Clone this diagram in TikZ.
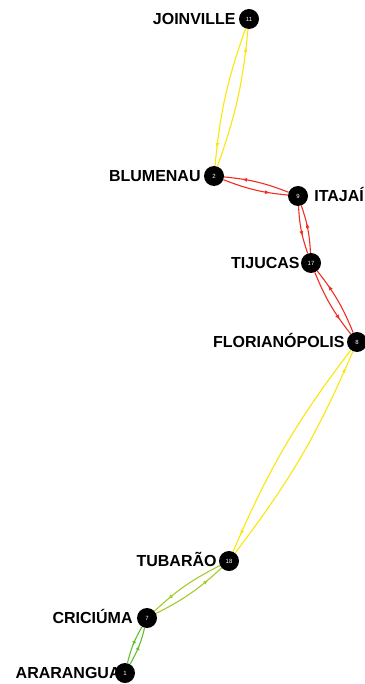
\documentclass[tikz,border=0pt]{standalone}
\usepackage{fontspec}
\setmainfont{Liberation Sans}
\usetikzlibrary{positioning,arrows.meta,decorations.markings}

\definecolor{routeyellow}{RGB}{250,230,10}
\definecolor{routered}{RGB}{240,45,35}
\definecolor{routelime}{RGB}{160,205,40}
\definecolor{routegreen}{RGB}{95,190,50}

\begin{document}
\begin{tikzpicture}[x=1pt,y=-1pt,
  city/.style={circle,fill=black,minimum size=20pt,inner sep=0pt,text=white,font=\fontsize{6}{6}\selectfont},
  cityname/.style={inner sep=0pt,text height=11.5pt,text depth=0pt,font=\fontsize{16}{16}\selectfont\bfseries},
  flow/.style={line width=1.1pt,postaction={decorate},
    decoration={markings,mark=at position -18pt with {\arrow{Latex[length=5pt,width=4pt]}}}}]
  \useasboundingbox (0,0) rectangle (364,684);
  % cities
  \node[city] (joi) at (249,19) {11};
  \node[city] (blu) at (214,176) {2};
  \node[city] (ita) at (298,196) {9};
  \node[city] (tij) at (311,263) {17};
  \node[city] (flo) at (357,342) {8};
  \node[city] (tub) at (229,561) {18};
  \node[city] (cri) at (147,618) {7};
  \node[city] (ara) at (125,673) {1};
  % names
  \node[cityname, left=3pt of joi] (joiname) {JOINVILLE};
  \node[cityname, left=3pt of blu] (bluname) {BLUMENAU};
  \node[cityname, right=6pt of ita] (itaname) {ITAJAÍ};
  \node[cityname, left=1pt of tij] (tijname) {TIJUCAS};
  \node[cityname, left=2pt of flo] (floname) {FLORIANÓPOLIS};
  \node[cityname, left=2pt of tub] (tubname) {TUBARÃO};
  \node[cityname, left=4pt of cri] (criname) {CRICIÚMA};
  \node[cityname, left=-6pt of ara] (araname) {ARARANGUA};
  % routes
  \draw[flow, routeyellow] (joi) to[bend right=7] (blu);
  \draw[flow, routeyellow] (blu) to[bend right=7] (joi);
  \draw[flow, routered] (blu) to[bend right=8] (ita);
  \draw[flow, routered] (ita) to[bend right=8] (blu);
  \draw[flow, routered] (ita) to[bend right=8] (tij);
  \draw[flow, routered] (tij) to[bend right=8] (ita);
  \draw[flow, routered] (tij) to[bend right=8] (flo);
  \draw[flow, routered] (flo) to[bend right=8] (tij);
  \draw[flow, routeyellow] (flo) to[bend right=7] (tub);
  \draw[flow, routeyellow] (tub) to[bend right=7] (flo);
  \draw[flow, routelime] (tub) to[bend right=8] (cri);
  \draw[flow, routelime] (cri) to[bend right=8] (tub);
  \draw[flow, routegreen] (cri) to[bend right=8] (ara);
  \draw[flow, routegreen] (ara) to[bend right=8] (cri);
\end{tikzpicture}
\end{document}
